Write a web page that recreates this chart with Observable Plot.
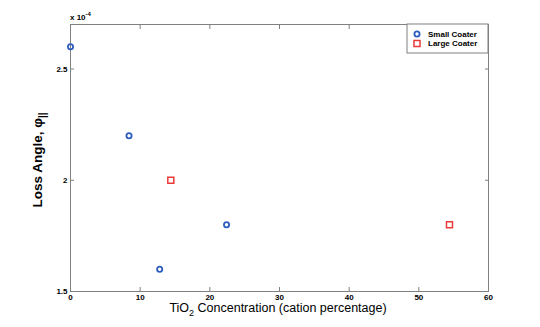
<!DOCTYPE html>
<html>
<head>
<meta charset="utf-8">
<script src="https://cdn.jsdelivr.net/npm/d3@7"></script>
<script src="https://cdn.jsdelivr.net/npm/@observablehq/plot@0.6"></script>
<style>
  body { margin: 0; background: white; }
  svg { display: block; }
</style>
</head>
<body>
<script>
// Data (loss angle in units of 1e-4)
const seriesNames = ["Small Coater", "Large Coater"];
const seriesColors = ["#2f5ec0", "#ea3a3a"];
const seriesSymbols = ["circle", "square"];
const smallConc = [0, 8.4, 12.8, 22.4];
const smallLoss = [2.6, 2.2, 1.6, 1.8];
const largeConc = [14.4, 54.4];
const largeLoss = [2.0, 1.8];
const xTicks = [0, 10, 20, 30, 40, 50, 60];
const yTicks = [1.5, 2, 2.5];
const yTickLabels = ["1.5", "2", "2.5"];

const data = [
  ...smallConc.map((c, i) => ({series: seriesNames[0], conc: c, loss: smallLoss[i]})),
  ...largeConc.map((c, i) => ({series: seriesNames[1], conc: c, loss: largeLoss[i]}))
];

const axisColor = "#808080";
const font = "'Liberation Sans', Arial, sans-serif";

const svg = Plot.plot({
  width: 540,
  height: 327,
  marginLeft: 70,
  marginRight: 52,
  marginTop: 24,
  marginBottom: 36,
  style: {fontFamily: font, fontSize: "8px", fontWeight: "bold", background: "white", color: "black"},
  x: {domain: [0, 60]},
  y: {domain: [1.5, 2.7]},
  symbol: {domain: seriesNames, range: seriesSymbols},
  color: {domain: seriesNames, range: seriesColors},
  marks: [
    Plot.frame({stroke: axisColor}),
    Plot.axisX({ticks: xTicks, tickSize: -4, tickPadding: 7, label: null, stroke: axisColor, tickFormat: d => String(d)}),
    Plot.axisX({anchor: "top", ticks: xTicks, tickSize: -4, label: null, stroke: axisColor, tickFormat: () => ""}),
    Plot.axisY({ticks: yTicks, tickSize: -4, tickPadding: 7, label: null, stroke: axisColor, tickFormat: d => yTickLabels[yTicks.indexOf(d)]}),
    Plot.axisY({anchor: "right", ticks: yTicks, tickSize: -4, label: null, stroke: axisColor, tickFormat: () => ""}),
    Plot.dot(data.filter(d => d.series === seriesNames[0]), {x: "conc", y: "loss", symbol: "series", stroke: "series", r: 2.6, strokeWidth: 1.8}),
    Plot.dot(data.filter(d => d.series === seriesNames[1]), {x: "conc", y: "loss", symbol: "series", stroke: "series", r: 3.4, strokeWidth: 1.5})
  ]
});
document.body.appendChild(svg);

const s = d3.select(svg);
// exponent label
const ex = s.append("text").attr("x", 70).attr("y", 20).attr("text-anchor", "start")
  .style("font-family", font).style("font-size", "8px").style("font-weight", "bold").attr("fill", "black");
ex.append("tspan").text("x 10");
ex.append("tspan").attr("dy", -4).style("font-size", "6px").text("-4");

// y label
const yl = s.append("text").attr("transform", "translate(42,160) rotate(-90)")
  .attr("text-anchor", "middle")
  .style("font-family", font).style("font-size", "13.5px").style("font-weight", "bold").attr("fill", "black");
yl.append("tspan").text("Loss Angle, \u03C6");
yl.append("tspan").attr("dy", 4).style("font-size", "10px").text("||");

// x label
const xl = s.append("text").attr("x", 278).attr("y", 312)
  .attr("text-anchor", "middle")
  .style("font-family", font).style("font-size", "12.5px").style("font-weight", "normal").attr("fill", "black");
xl.append("tspan").text("TiO");
xl.append("tspan").attr("dy", 4).style("font-size", "9px").text("2");
xl.append("tspan").attr("dy", -4).text(" Concentration (cation percentage)");

// legend
const lg = s.append("g");
lg.append("rect").attr("x", 407).attr("y", 24).attr("width", 81).attr("height", 29)
  .attr("fill", "white").attr("stroke", axisColor);
seriesNames.forEach((name, i) => {
  const y = 34 + i * 9.5;
  const sym = d3.symbol(i === 0 ? d3.symbolCircle : d3.symbolSquare, i === 0 ? Math.PI * 2.6 * 2.6 : Math.PI * 3.4 * 3.4);
  lg.append("path").attr("d", sym()).attr("transform", `translate(417,${y})`)
    .attr("fill", "none").attr("stroke", seriesColors[i]).attr("stroke-width", i === 0 ? 1.8 : 1.5);
  lg.append("text").attr("x", 428).attr("y", y).attr("dy", "0.35em").attr("text-anchor", "start")
    .style("font-family", font).style("font-size", "8px").style("font-weight", "bold").attr("fill", "black").text(name);
});
</script>
</body>
</html>
